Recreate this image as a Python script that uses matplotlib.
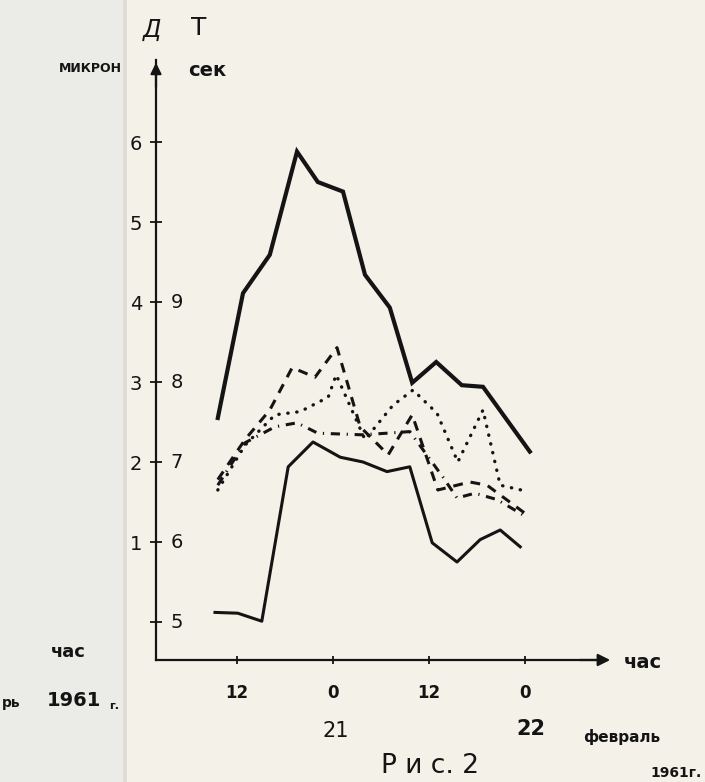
import matplotlib
matplotlib.use("Agg")
import matplotlib.pyplot as plt
from matplotlib.patches import Rectangle

# hours counted from 0 h of 20 Feb 1961, values on the D (micron) scale; T = D + 5
upper_h = [9.6, 12.75, 16.1, 19.5, 22.1, 25.25, 28.0, 31.1, 33.9, 36.9, 40.1, 42.75, 48.6]
upper_v = [2.55, 4.11, 4.59, 5.88, 5.50, 5.38, 4.34, 3.93, 2.99, 3.25, 2.96, 2.94, 2.13]

lower_h = [9.25, 12.1, 15.1, 18.4, 21.5, 24.9, 27.75, 30.75, 33.6, 36.4, 39.5, 42.4, 44.9, 47.4]
lower_v = [0.12, 0.11, 0.01, 1.94, 2.25, 2.06, 2.00, 1.88, 1.94, 0.99, 0.75, 1.03, 1.15, 0.94]

dash_h = [9.6, 13.0, 16.1, 18.9, 21.75, 24.5, 27.4, 30.9, 33.9, 37.1, 41.1, 43.25, 48.25]
dash_v = [1.78, 2.28, 2.65, 3.18, 3.06, 3.43, 2.44, 2.09, 2.59, 1.65, 1.75, 1.71, 1.34]

dot_h = [9.6, 13.0, 16.75, 19.9, 23.4, 24.4, 28.0, 31.5, 34.0, 37.0, 39.6, 42.75, 44.9, 48.4]
dot_v = [1.65, 2.21, 2.59, 2.63, 2.81, 3.09, 2.28, 2.71, 2.90, 2.61, 2.00, 2.65, 1.71, 1.63]

dd_h = [9.6, 13.0, 16.75, 19.5, 22.1, 24.9, 27.6, 30.75, 33.6, 37.75, 39.5, 41.75, 44.5, 48.25]
dd_v = [1.71, 2.24, 2.44, 2.49, 2.36, 2.35, 2.34, 2.36, 2.38, 1.81, 1.55, 1.61, 1.53, 1.31]

d_ticks = [0, 1, 2, 3, 4, 5, 6]
d_labels = ["", "1", "2", "3", "4", "5", "6"]
t_labels = ["5", "6", "7", "8", "9"]
x_ticks = [12, 24, 36, 48]
x_labels = ["12", "0", "12", "0"]

ink = "#141414"
W, H = 705, 782

fig = plt.figure(figsize=(W / 100, H / 100), dpi=100)
fig.patch.set_facecolor("#f3f1e8")
# lighter strip of the neighbouring page on the left
fig.add_artist(Rectangle((0, 0), 125 / W, 1, transform=fig.transFigure,
                         facecolor="#ebebe7", edgecolor="none", zorder=0))
fig.add_artist(Rectangle((123 / W, 0), 4 / W, 1, transform=fig.transFigure,
                         facecolor="#dedcd4", edgecolor="none", zorder=0))

ax = fig.add_axes([156 / W, 122 / H, 448 / W, 600 / H])
ax.set_facecolor("none")
ax.set_xlim(1.875, 57.875)
ax.set_ylim(-0.475, 7.025)

for s in ["top", "right"]:
    ax.spines[s].set_visible(False)
for s in ["left", "bottom"]:
    ax.spines[s].set_linewidth(1.6)
    ax.spines[s].set_color(ink)

ax.plot(upper_h, upper_v, color=ink, lw=3.0, solid_joinstyle="miter")
ax.plot(lower_h, lower_v, color=ink, lw=2.2)
ax.plot(dash_h, dash_v, color=ink, lw=2.2, dashes=(3.2, 2.6))
ax.plot(dot_h, dot_v, color=ink, lw=2.4, dashes=(0.1, 2.6), dash_capstyle="round")
ax.plot(dd_h, dd_v, color=ink, lw=2.2, dashes=(3.0, 2.2, 0.4, 2.2))

ax.set_yticks(d_ticks)
ax.set_yticklabels(d_labels, fontsize=14, color=ink)
ax.tick_params(axis="y", direction="inout", length=8, width=1.3, pad=6, colors=ink)
for d, lab in zip(d_ticks, t_labels):
    ax.text(0.032, d, lab, transform=ax.get_yaxis_transform(), fontsize=14,
            color=ink, va="center", ha="left")

ax.set_xticks(x_ticks)
ax.set_xticklabels(x_labels, fontsize=12, fontweight="bold", color=ink)
ax.tick_params(axis="x", direction="inout", length=6, width=1.3, pad=14, colors=ink)

# axis arrows
ax.annotate("", xy=(0, 1.0), xytext=(0, 0.95), xycoords="axes fraction",
            arrowprops=dict(arrowstyle="-|>", color=ink, lw=1.6, mutation_scale=16),
            annotation_clip=False)
ax.annotate("", xy=(1.02, 0), xytext=(0.94, 0), xycoords="axes fraction",
            arrowprops=dict(arrowstyle="-|>", color=ink, lw=1.6, mutation_scale=18),
            annotation_clip=False)


def ftext(x, y, s, **kw):
    kw.setdefault("color", ink)
    kw.setdefault("ha", "center")
    kw.setdefault("va", "center")
    fig.text(x / W, 1 - y / H, s, **kw)


ftext(152, 30, "Д", fontsize=17, style="italic")
ftext(199, 28, "Т", fontsize=18)
ftext(90, 68, "МИКРОН", fontsize=9, fontweight="bold")
ftext(207, 70, "сек", fontsize=14, fontweight="bold")
ftext(643, 662, "час", fontsize=14, fontweight="bold")
ftext(68, 652, "час", fontsize=13, fontweight="bold")
ftext(11, 703, "рь", fontsize=10, fontweight="bold")
ftext(74, 700, "1961", fontsize=14, fontweight="bold")
ftext(109, 706, "г.", fontsize=8, fontweight="bold", ha="left")
ftext(336, 731, "21", fontsize=15)
ftext(531, 729, "22", fontsize=15, fontweight="bold")
ftext(622, 737, "февраль", fontsize=11, fontweight="bold")
ftext(430, 766, "Р и с. 2", fontsize=19)
ftext(702, 773, "1961г.", fontsize=10, fontweight="bold", ha="right")

fig.savefig("out.png", dpi=100, facecolor=fig.get_facecolor())
